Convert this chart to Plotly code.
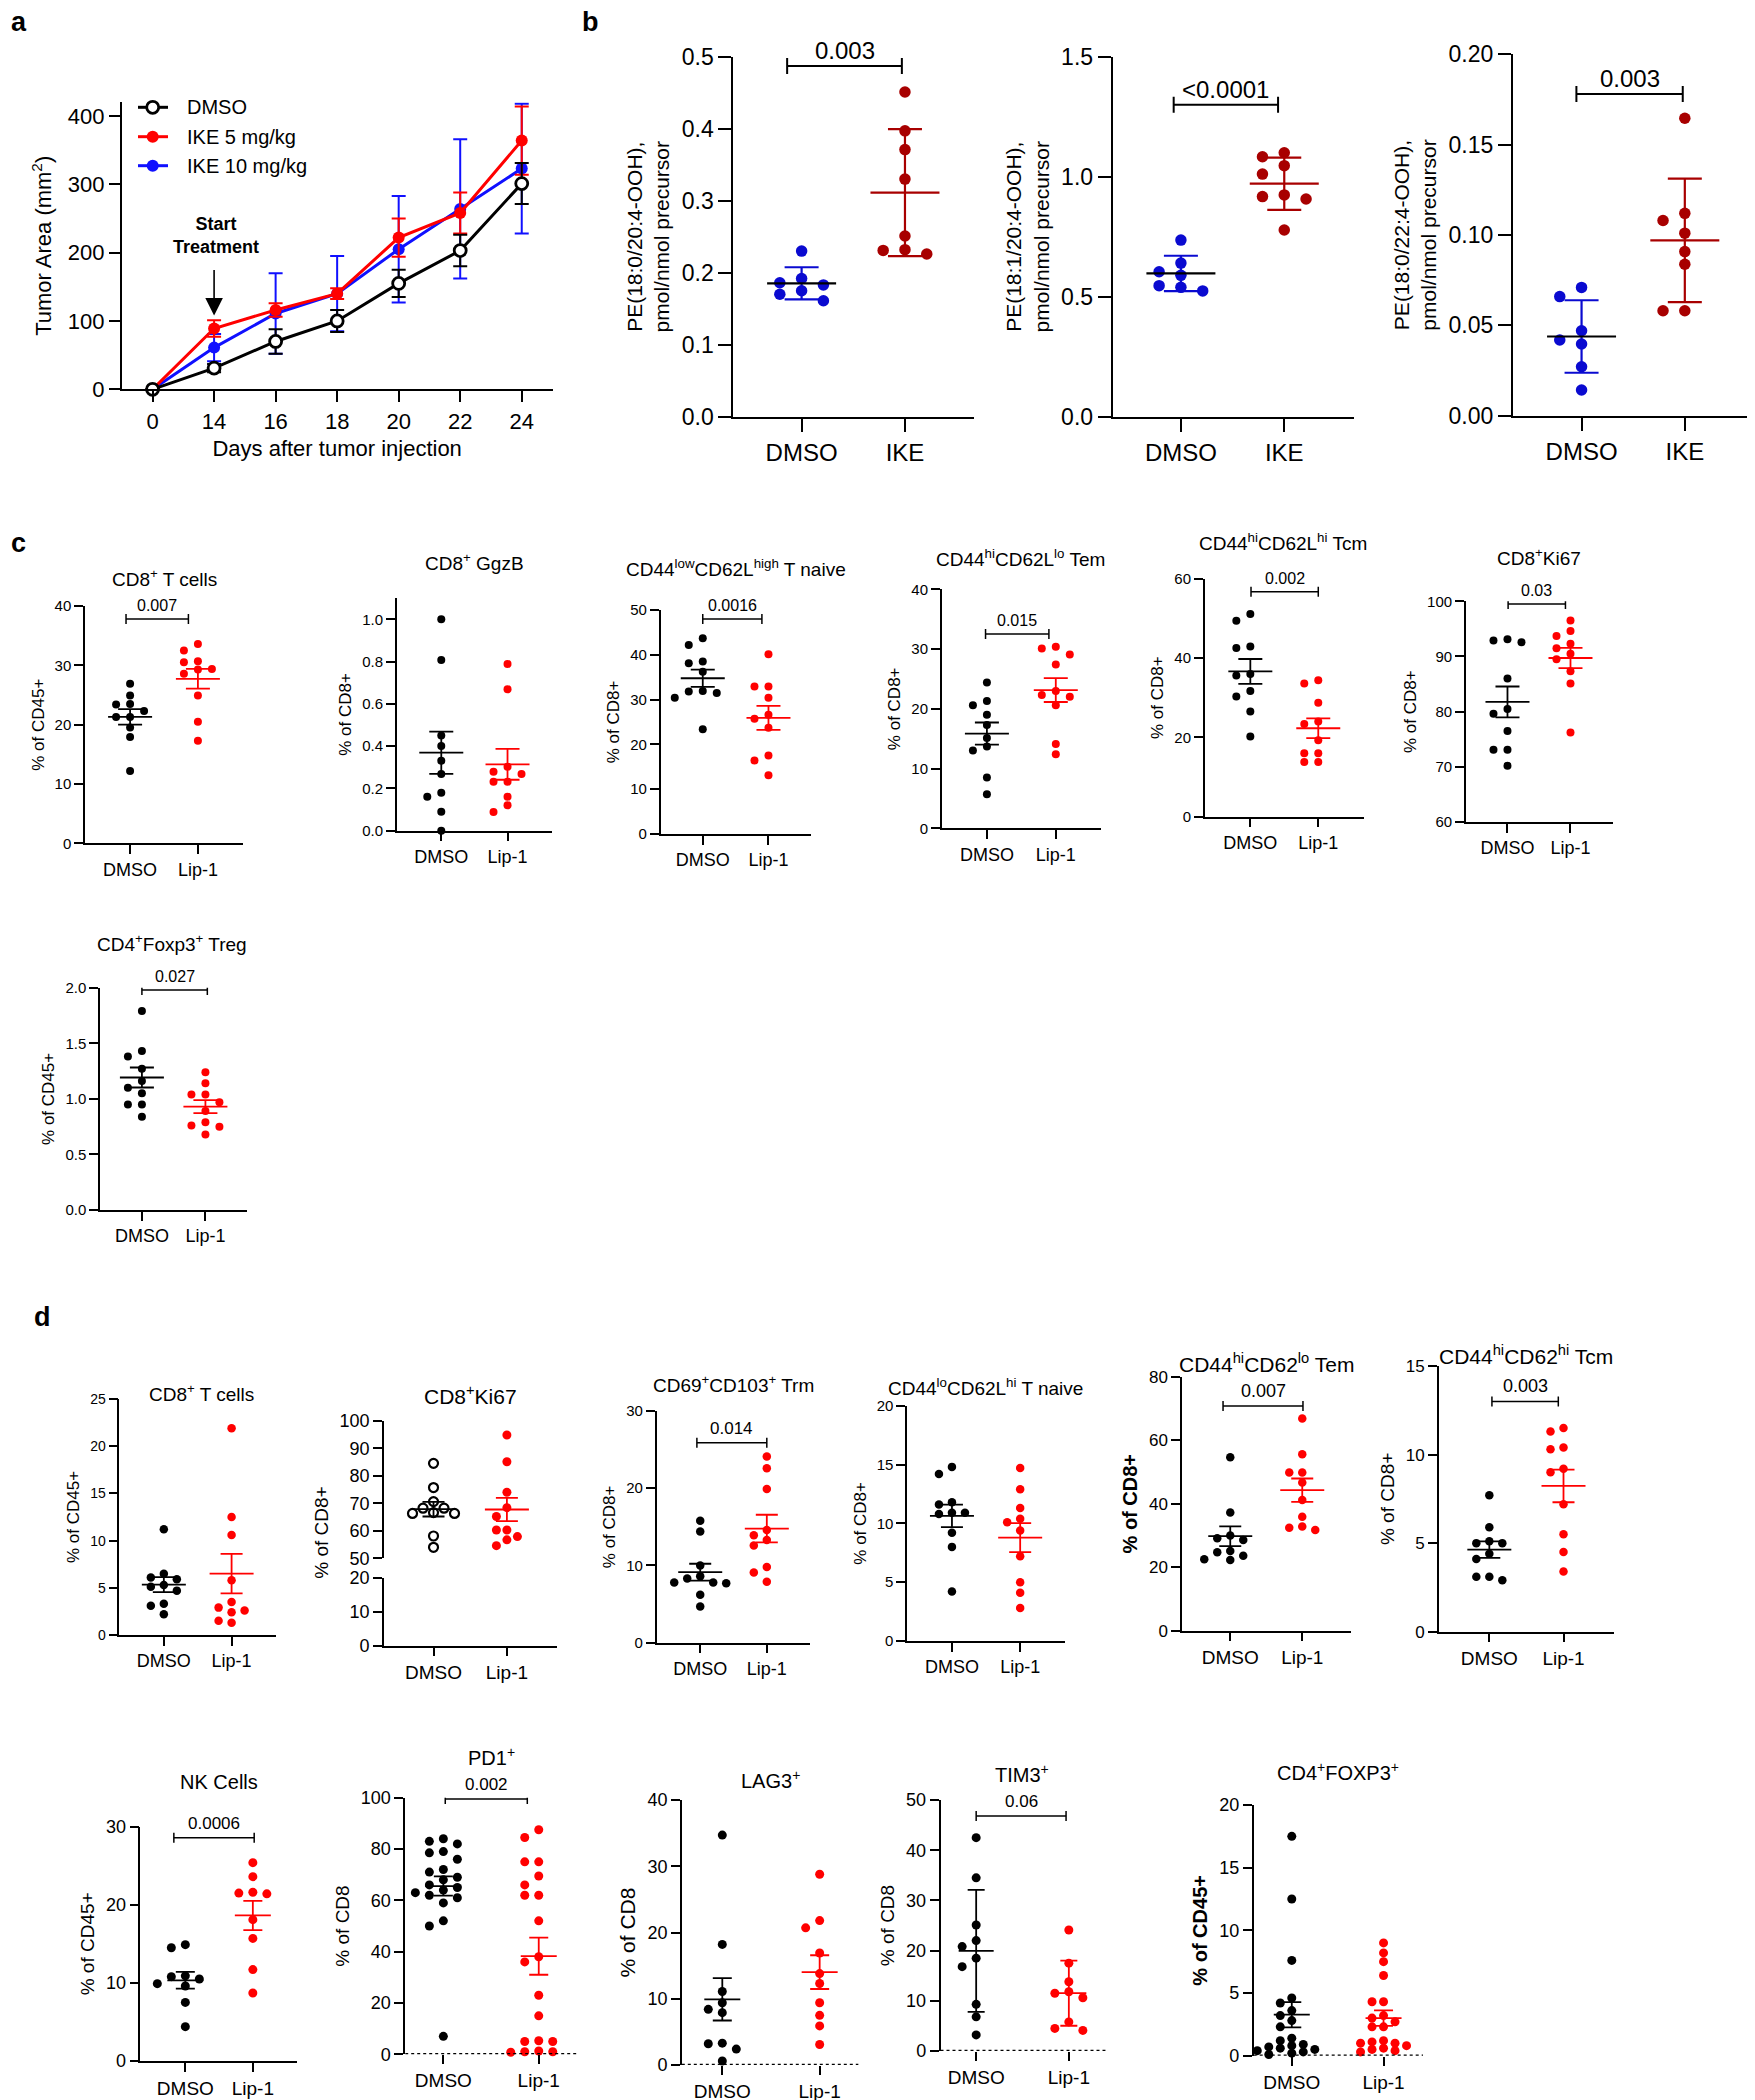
import numpy as np
import plotly.graph_objects as go

W, H = 1755, 2100
OFF = 8  # page offset of the plot inside the browser (body margin)
FONT = "Liberation Sans"
BLACK = "#000000"
RED = "#FF0000"
DARKRED = "#A80000"
BLUE_B = "#0A0AD0"
BLUE_A = "#1010FF"

# ---------------- data ----------------
# panel a : tumor growth
a_days = ["0", "14", "16", "18", "20", "22", "24"]
a_dmso = [0, 31, 70, 100, 155, 203, 301]
a_dmso_err = [0, 6, 18, 16, 20, 23, 30]
a_ike5 = [0, 89, 116, 140, 222, 258, 364]
a_ike5_err = [0, 12, 10, 8, 28, 30, 50]
a_ike10 = [0, 61, 111, 140, 205, 264, 323]
a_ike10_err = [0, 20, 59, 55, 78, 102, 95]

# panel b : oxidized PE
b_cats = ["DMSO", "IKE"]
b1_dmso = [0.230, 0.192, 0.186, 0.183, 0.175, 0.170, 0.161]
b1_ike = [0.451, 0.397, 0.371, 0.330, 0.251, 0.232, 0.231, 0.226]
b2_dmso = [0.736, 0.640, 0.604, 0.589, 0.546, 0.539, 0.524]
b2_ike = [1.100, 1.083, 1.046, 1.011, 0.924, 0.917, 0.907, 0.778]
b3_dmso = [0.0710, 0.0659, 0.0470, 0.0419, 0.0397, 0.0271, 0.0142]
b3_ike = [0.1646, 0.112, 0.108, 0.101, 0.0908, 0.0838, 0.0581, 0.0581]

# panel c
cd_cats = ["DMSO", "Lip-1"]
c1_dmso = [26.9, 24.9, 23.5, 23.4, 22.3, 21.3, 21.3, 19.5, 17.9, 12.2]
c1_lip = [33.6, 32.5, 30.7, 30.5, 29.4, 29.3, 28.6, 24.9, 20.5, 17.3]
c2_dmso = [1.0, 0.808, 0.451, 0.401, 0.331, 0.268, 0.18, 0.161, 0.09, 0.0]
c2_lip = [0.789, 0.669, 0.303, 0.279, 0.268, 0.232, 0.232, 0.161, 0.12, 0.088]
c3_dmso = [43.7, 42.2, 38.5, 38.1, 36.2, 31.9, 31.8, 31.5, 30.4, 23.4]
c3_lip = [40.1, 32.9, 32.9, 30.4, 26.6, 25.7, 23.7, 17.5, 16.4, 13.1]
c4_dmso = [24.4, 21.3, 20.6, 19.0, 17.3, 15.1, 13.7, 13.0, 8.5, 5.7]
c4_lip = [30.4, 30.1, 29.1, 27.4, 23.0, 22.3, 22.0, 20.6, 14.1, 12.4]
c5_dmso = [51.1, 49.4, 42.9, 42.5, 36.0, 35.6, 31.7, 30.3, 26.5, 20.2]
c5_lip = [34.4, 33.6, 28.7, 24.0, 23.4, 19.3, 16.0, 16.0, 13.8, 13.8]
c6_dmso = [93.1, 92.9, 92.6, 86.0, 80.5, 79.6, 76.5, 73.1, 73.1, 70.2]
c6_lip = [96.5, 94.6, 93.7, 92.3, 91.5, 90.5, 89.5, 87.3, 85.1, 76.2]
c7_dmso = [1.79, 1.43, 1.38, 1.27, 1.16, 1.10, 1.05, 0.95, 0.95, 0.84]
c7_lip = [1.24, 1.14, 1.04, 1.04, 0.97, 0.89, 0.79, 0.76, 0.75, 0.68]

# panel d
d1_dmso = [11.2, 6.5, 6.1, 5.9, 5.3, 5.1, 4.7, 3.3, 3.1, 2.2]
d1_lip = [21.9, 12.5, 10.6, 5.8, 3.5, 2.9, 2.6, 2.4, 1.5, 1.3]
d2_dmso = [84.5, 75.7, 70.6, 68.2, 68.2, 66.6, 66.3, 66.3, 58.1, 54.0]
d2_lip = [94.8, 85.1, 74.0, 68.4, 65.2, 60.3, 60.3, 57.9, 56.7, 54.6]
d3_dmso = [15.8, 14.4, 10.0, 8.6, 8.3, 7.8, 7.8, 7.7, 6.2, 4.7]
d3_lip = [24.1, 22.6, 19.9, 14.6, 13.9, 13.3, 12.6, 9.8, 9.1, 7.9]
d4_dmso = [14.8, 14.2, 11.8, 11.6, 10.9, 10.9, 10.8, 9.2, 8.0, 4.2]
d4_lip = [14.7, 12.9, 11.3, 10.4, 10.1, 9.4, 7.2, 5.0, 4.1, 2.8]
d5_dmso = [54.6, 37.2, 30.0, 29.1, 28.6, 25.1, 24.7, 23.6, 22.5, 22.3]
d5_lip = [66.8, 55.6, 49.8, 49.8, 46.7, 41.2, 35.9, 32.8, 32.4, 31.7]
d6_dmso = [7.7, 5.9, 5.1, 5.0, 5.0, 4.4, 4.1, 3.1, 3.1, 2.9]
d6_lip = [11.5, 11.3, 10.4, 10.3, 9.2, 9.0, 7.2, 5.5, 4.5, 3.4]
d7_dmso = [14.9, 14.5, 10.9, 10.8, 10.5, 9.9, 9.6, 7.5, 4.4]
d7_lip = [25.4, 23.6, 21.6, 21.5, 21.4, 18.1, 15.7, 11.7, 8.7]
d8_dmso = [84, 83, 82, 79, 78.5, 76, 72, 71, 69, 68, 66, 65, 64, 63, 62, 61, 59, 52, 50, 7]
d8_lip = [87.5, 84.5, 75, 75, 69.5, 66, 62, 62, 52, 38, 36, 23, 15, 5.3, 5.0, 5.0, 1.3, 1.0, 1.0, 0.8]
d9_dmso = [34.7, 18.2, 11.1, 9.4, 8.4, 7.9, 3.3, 3.2, 2.4, 0.6]
d9_lip = [28.8, 21.8, 20.7, 16.9, 13.8, 12.3, 9.4, 7.5, 5.9, 3.1]
d10_dmso = [42.5, 34.5, 25.1, 22.0, 20.8, 18.5, 16.8, 9.3, 6.8, 3.2]
d10_lip = [24.1, 17.5, 13.8, 11.8, 11.5, 10.6, 5.8, 4.5, 4.1]
d11_dmso = [17.5, 12.5, 7.6, 4.6, 4.2, 3.6, 3.2, 2.8, 2.3, 1.4, 1.2, 0.9, 0.8, 0.7, 0.6, 0.5, 0.4, 0.3, 0.2, 0.1]
d11_lip = [9.0, 8.2, 7.5, 6.4, 4.3, 4.3, 3.2, 3.0, 2.7, 2.3, 2.3, 1.2, 1.1, 1.0, 1.0, 0.8, 0.6, 0.5, 0.4, 0.3]

# ---------------- helpers ----------------
traces, shapes, annos = [], [], []
layout = {}
counter = [0]


def PX(x):
    return (x - OFF) / W


def PY(y):
    return 1 - (y - OFF) / H


def new_ax():
    counter[0] += 1
    return "" if counter[0] == 1 else str(counter[0])


def fnt(size):
    return dict(family=FONT, size=int(round(size)), color=BLACK)


def axes(geom, xr, yr, yticks, yfmt, st, xtickvals, xticktext, ytitle=None,
         ybold=False, ytsize=None, xline=True, xvisible=True, standoff=6):
    s = new_ax()
    x0, x1, yb, yt = geom
    lw = st["lw"]
    common = dict(showline=True, linecolor=BLACK, linewidth=lw, ticks="outside",
                  ticklen=st["ticklen"], tickwidth=lw, tickcolor=BLACK,
                  showgrid=False, zeroline=False, fixedrange=True, automargin=False)
    xa = dict(common, domain=[PX(x0), PX(x1)], range=xr, anchor="y" + s,
              tickmode="array", tickvals=xtickvals, ticktext=xticktext,
              tickfont=fnt(st["cat"]), showline=xline, visible=xvisible)
    ya = dict(common, domain=[PY(yb), PY(yt)], range=yr, anchor="x" + s,
              tickmode="array", tickvals=yticks, ticktext=[yfmt(v) for v in yticks],
              tickfont=fnt(st["tick"]))
    if ytitle:
        txt = "<b>%s</b>" % ytitle if ybold else ytitle
        ya["title"] = dict(text=txt, font=fnt(ytsize or st["yt"]), standoff=standoff)
    layout["xaxis" + s] = xa
    layout["yaxis" + s] = ya
    # empty trace so that the subplot is always drawn
    traces.append(go.Scatter(x=[], y=[], xaxis="x" + s, yaxis="y" + s,
                             showlegend=False, hoverinfo="skip"))
    return s


def swarm(vals, center, pxx, pxy, diam, step):
    order = sorted(range(len(vals)), key=lambda i: -vals[i])
    placed = []
    xs = [0.0] * len(vals)
    for i in order:
        py = vals[i] * pxy
        ox = 0
        for cand in [0, -1, 1, -2, 2, -3, 3, -4, 4]:
            ox = cand * step
            ok = all(not (abs(px - ox) < step * 0.5 and abs(qy - py) < diam)
                     for px, qy in placed)
            if ok:
                break
        placed.append((ox, py))
        xs[i] = center + ox / pxx
    return xs


def draw_groups(s, geom, xr, yr, groups, st, err):
    x0, x1, yb, yt = geom
    pxx = (x1 - x0) / (xr[1] - xr[0])
    pxy = (yb - yt) / (yr[1] - yr[0])
    hw = st["hw"] / pxx
    cw = st["cw"] / pxx
    for gi, g in enumerate(groups):
        vals = g["vals"]
        xs = swarm(vals, gi, pxx, pxy, st["size"] * st.get("coll", 1.0), st["step"])
        if g.get("open"):
            mk = dict(size=st["size"], color=g["color"], symbol="circle-open",
                      line=dict(width=2.2, color=g["color"]))
        else:
            mk = dict(size=st["size"], color=g["color"], line=dict(width=0))
        traces.append(go.Scatter(x=xs, y=vals, mode="markers", marker=mk,
                                 xaxis="x" + s, yaxis="y" + s, cliponaxis=False,
                                 showlegend=False, hoverinfo="skip"))
        v = np.array(vals, float)
        m = v.mean()
        sd = v.std(ddof=1)
        e = sd if err == "sd" else sd / np.sqrt(len(v))
        traces.append(go.Scatter(
            x=[gi, gi, None, gi - cw, gi + cw, None, gi - cw, gi + cw],
            y=[m - e, m + e, None, m + e, m + e, None, m - e, m - e],
            mode="lines", line=dict(color=g.get("ecolor", g["color"]), width=st["lwm"]),
            xaxis="x" + s, yaxis="y" + s, cliponaxis=False, showlegend=False,
            hoverinfo="skip"))
        traces.append(go.Scatter(
            x=[gi - hw, gi + hw], y=[m, m], mode="lines",
            line=dict(color=g.get("mcolor", g["color"]), width=st["lwm"]),
            xaxis="x" + s, yaxis="y" + s, cliponaxis=False, showlegend=False,
            hoverinfo="skip"))


def bracket(s, geom, yr, br, st):
    x0, x1, yb, yt = geom
    pxy = (yb - yt) / (yr[1] - yr[0])
    xa_, xb_, yv, label = br
    th = st["bt"] / pxy
    for (X0, Y0, X1, Y1) in [(xa_, yv, xb_, yv), (xa_, yv - th, xa_, yv + th),
                             (xb_, yv - th, xb_, yv + th)]:
        shapes.append(dict(type="line", xref="x" + s, yref="y" + s, x0=X0, y0=Y0,
                           x1=X1, y1=Y1, line=dict(color=BLACK, width=st["lw"])))
    annos.append(dict(text=label, x=(xa_ + xb_) / 2, y=yv, xref="x" + s, yref="y" + s,
                      yanchor="bottom", yshift=st["pvshift"], showarrow=False,
                      font=fnt(st["pv"])))


def title(text, pos, size):
    annos.append(dict(text=text, x=PX(pos[0]), y=PY(pos[1]), xref="paper",
                      yref="paper", xanchor="center", yanchor="middle",
                      showarrow=False, font=fnt(size)))


def dotplot(geom, xr, yr, yticks, yfmt, ytitle, ttl, tpos, groups, st, err="sem",
            br=None, dotted=False, ybold=False, ytsize=None, tsize=None, cats=None):
    cats = cats or cd_cats
    s = axes(geom, xr, yr, yticks, yfmt, st, list(range(len(cats))), list(cats),
             ytitle, ybold, ytsize, xline=not dotted)
    if dotted:
        shapes.append(dict(type="line", xref="x" + s, yref="y" + s, x0=xr[0], x1=xr[1],
                           y0=0, y1=0, line=dict(color=BLACK, width=2.5, dash="dot")))
    draw_groups(s, geom, xr, yr, groups, st, err)
    if br:
        bracket(s, geom, yr, br, st)
    if ttl:
        title(ttl, tpos, tsize or st["title"])
    return s


def blk(v):
    return dict(vals=v, color=BLACK)


def red(v):
    return dict(vals=v, color=RED)


fmt_g = lambda v: "%g" % v
fmt1 = lambda v: "%.1f" % v
fmt2 = lambda v: "%.2f" % v

# ---------------- panel a ----------------
ST_A = dict(lw=2, ticklen=11, tick=22, cat=22, yt=22)
ga = (121.8, 552.5, 389.3, 102.3)
sa = axes(ga, [-0.5, 6.5], [0, 420], [0, 100, 200, 300, 400], fmt_g, ST_A,
          list(range(len(a_days))), a_days, ytitle="Tumor Area (mm<sup>2</sup>)",
          standoff=10)
layout["xaxis" + sa]["title"] = dict(text="Days after tumor injection", font=fnt(22),
                                     standoff=8)
xi = list(range(len(a_days)))
for yv, ev, col, opn in [(a_ike10, a_ike10_err, BLUE_A, False),
                         (a_ike5, a_ike5_err, RED, False),
                         (a_dmso, a_dmso_err, BLACK, True)]:
    mk = dict(size=12, color=col) if not opn else dict(
        size=12, color="white", line=dict(color=BLACK, width=2.8))
    traces.append(go.Scatter(
        x=xi, y=yv, mode="lines+markers", line=dict(color=col, width=3), marker=mk,
        error_y=dict(type="data", array=ev, color=col, thickness=2, width=7),
        xaxis="x" + sa, yaxis="y" + sa, cliponaxis=False, showlegend=False,
        hoverinfo="skip"))
# legend (drawn)
for ypx, lab, col, opn in [(107.3, "DMSO", BLACK, True), (136.7, "IKE 5 mg/kg", RED, False),
                           (165.7, "IKE 10 mg/kg", BLUE_A, False)]:
    yy = PY(ypx)
    shapes.append(dict(type="line", xref="paper", yref="paper", x0=PX(138), x1=PX(168),
                       y0=yy, y1=yy, line=dict(color=col, width=3)))
    shapes.append(dict(type="circle", xref="paper", yref="paper",
                       x0=PX(152.7 - 6), x1=PX(152.7 + 6),
                       y0=PY(ypx + 6), y1=PY(ypx - 6),
                       fillcolor="white" if opn else col,
                       line=dict(color=col, width=2.8 if opn else 0)))
    annos.append(dict(text=lab, x=PX(185), y=yy, xref="paper", yref="paper",
                      xanchor="left", yanchor="middle", showarrow=False, font=fnt(20)))
annos.append(dict(text="<b>Start<br>Treatment</b>", x=PX(216), y=PY(235.5),
                  xref="paper", yref="paper", xanchor="center", yanchor="middle",
                  showarrow=False, font=fnt(18)))
annos.append(dict(text="", x=a_days.index("14"), y=108, xref="x" + sa, yref="y" + sa,
                  showarrow=True, ax=0, ay=-47, arrowhead=2, arrowsize=2.2,
                  arrowwidth=1.6, arrowcolor=BLACK, standoff=0))

# ---------------- panel b ----------------
ST_B = dict(lw=2, ticklen=13, tick=23, cat=24, yt=21, hw=34.5, cw=17, lwm=2.2,
            size=11.5, step=21.8, pv=24, bt=8, pvshift=0, title=20)


def bgroups(d, i):
    return [dict(vals=d, color=BLUE_B, mcolor=BLACK, ecolor=BLUE_B),
            dict(vals=i, color=DARKRED, mcolor=DARKRED, ecolor=DARKRED)]


dotplot((733.4, 973.7, 416.7, 56.7), [-0.66, 1.665], [0, 0.5],
        [0, 0.1, 0.2, 0.3, 0.4, 0.5], fmt1,
        "PE(18:0/20:4-OOH),<br>pmol/nmol precursor", None, None,
        bgroups(b1_dmso, b1_ike), ST_B, err="sd", br=(-0.14, 0.97, 0.487, "0.003"),
        cats=b_cats)
dotplot((1112.7, 1353.5, 416.7, 56.7), [-0.66, 1.67], [0, 1.5],
        [0, 0.5, 1.0, 1.5], fmt1,
        "PE(18:1/20:4-OOH),<br>pmol/nmol precursor", None, None,
        bgroups(b2_dmso, b2_ike), ST_B, err="sd", br=(-0.07, 0.94, 1.30, "&lt;0.0001"),
        cats=b_cats)
dotplot((1512.9, 1754, 415.7, 54.3), [-0.665, 1.67], [0, 0.2],
        [0, 0.05, 0.1, 0.15, 0.2], fmt2,
        "PE(18:0/22:4-OOH),<br>pmol/nmol precursor", None, None,
        bgroups(b3_dmso, b3_ike), ST_B, err="sd", br=(-0.05, 0.98, 0.178, "0.003"),
        cats=b_cats)

# ---------------- panel c ----------------
ST_C = dict(lw=1.5, ticklen=9, tick=15, cat=18, yt=17, hw=22, cw=12, lwm=1.8,
            size=8, step=14, pv=16, bt=5, pvshift=3, title=19)
dotplot((85, 243, 843.3, 606), [-0.665, 1.665], [0, 40], [0, 10, 20, 30, 40], fmt_g,
        "% of CD45+", "CD8<sup>+</sup> T cells", (164, 578),
        [blk(c1_dmso), red(c1_lip)], ST_C, br=(-0.06, 0.86, 37.8, "0.007"))
dotplot((396.9, 551.9, 830.7, 598.2), [-0.67, 1.67], [0, 1.1],
        [0, 0.2, 0.4, 0.6, 0.8, 1.0], fmt1,
        "% of CD8+", "CD8<sup>+</sup> GgzB", (474.6, 561.7),
        [blk(c2_dmso), red(c2_lip)], ST_C)
dotplot((660.7, 811.2, 834, 610), [-0.64, 1.65], [0, 50], [0, 10, 20, 30, 40, 50], fmt_g,
        "% of CD8+", "CD44<sup>low</sup>CD62L<sup>high</sup> T naive", (736, 568),
        [blk(c3_dmso), red(c3_lip)], ST_C, br=(0, 0.9, 48, "0.0016"))
dotplot((941.8, 1100.9, 828.3, 589.3), [-0.655, 1.655], [0, 40], [0, 10, 20, 30, 40],
        fmt_g, "% of CD8+", "CD44<sup>hi</sup>CD62L<sup>lo</sup> Tem", (1020.8, 558),
        [blk(c4_dmso), red(c4_lip)], ST_C, br=(-0.02, 0.9, 32.5, "0.015"))
dotplot((1204.8, 1363.8, 816.7, 578.7), [-0.67, 1.67], [0, 60], [0, 20, 40, 60],
        fmt_g, "% of CD8+", "CD44<sup>hi</sup>CD62L<sup>hi</sup> Tcm", (1283.3, 541.7),
        [blk(c5_dmso), red(c5_lip)], ST_C, br=(0.01, 1.0, 56.7, "0.002"))
dotplot((1465.9, 1612.7, 822, 601.3), [-0.66, 1.67], [60, 100],
        [60, 70, 80, 90, 100], fmt_g, "% of CD8+", "CD8<sup>+</sup>Ki67",
        (1538.7, 556.7), [blk(c6_dmso), red(c6_lip)], ST_C,
        br=(0.01, 0.92, 99.5, "0.03"))
dotplot((100, 246.7, 1210, 987.7), [-0.66, 1.65], [0, 2], [0, 0.5, 1.0, 1.5, 2.0], fmt1,
        "% of CD45+", "CD4<sup>+</sup>Foxp3<sup>+</sup> Treg", (171.7, 942.7),
        [blk(c7_dmso), red(c7_lip)], ST_C, br=(0, 1.03, 1.98, "0.027"))

# ---------------- panel d, row 1 ----------------
ST_D = dict(lw=1.5, ticklen=9, tick=15, cat=18, yt=17, hw=22, cw=11, lwm=1.8,
            size=8.5, step=13, pv=17, bt=5, pvshift=3, title=19)
ST_D1 = dict(ST_D, tick=14)
dotplot((119.4, 276.3, 1635, 1399), [-0.656, 1.66], [0, 25], [0, 5, 10, 15, 20, 25],
        fmt_g, "% of CD45+", "CD8<sup>+</sup> T cells", (201, 1393),
        [blk(d1_dmso), red(d1_lip)], ST_D1)

# broken axis Ki67
ST_D2 = dict(ST_D, tick=18, cat=19, step=10.5, size=9)
g_lo = (383.9, 556.8, 1645.7, 1577.7)
g_hi = (383.9, 556.8, 1558.3, 1420.7)
xr2 = [-0.676, 1.68]
axes(g_lo, xr2, [0, 20], [0, 10, 20], fmt_g, ST_D2, [0, 1], cd_cats)
s_hi = axes(g_hi, xr2, [50, 100], [50, 60, 70, 80, 90, 100], fmt_g, ST_D2, [0, 1],
            cd_cats, xvisible=False)
draw_groups(s_hi, g_hi, xr2, [50, 100],
            [dict(vals=d2_dmso, color=BLACK, open=True), red(d2_lip)], ST_D2, "sem")
annos.append(dict(text="% of CD8+", x=PX(320.7), y=PY(1533), xref="paper",
                  yref="paper", textangle=-90, showarrow=False, font=fnt(19),
                  xanchor="center", yanchor="middle"))
title("CD8<sup>+</sup>Ki67", (470.7, 1395), 21)

dotplot((656.6, 810.1, 1642.7, 1411), [-0.655, 1.65], [0, 30], [0, 10, 20, 30], fmt_g,
        "% of CD8+", "CD69<sup>+</sup>CD103<sup>+</sup> Trm", (733, 1384),
        [blk(d3_dmso), red(d3_lip)], ST_D, br=(-0.05, 1.0, 25.9, "0.014"))
dotplot((907.2, 1065.2, 1641, 1405.7), [-0.656, 1.66], [0, 20], [0, 5, 10, 15, 20],
        fmt_g, "% of CD8+", "CD44<sup>lo</sup>CD62L<sup>hi</sup> T naive", (985, 1387),
        [blk(d4_dmso), red(d4_lip)], ST_D)
ST_D5 = dict(ST_D, tick=17, cat=19, pv=18)
dotplot((1182, 1350.5, 1630.7, 1376.7), [-0.67, 1.67], [0, 80], [0, 20, 40, 60, 80],
        fmt_g, "% of CD8+", "CD44<sup>hi</sup>CD62<sup>lo</sup> Tem", (1266.3, 1362.7),
        [blk(d5_dmso), red(d5_lip)], ST_D5, br=(-0.1, 1.01, 70.8, "0.007"),
        ybold=True, ytsize=20, tsize=21)
dotplot((1438.9, 1614.3, 1631.7, 1366), [-0.68, 1.685], [0, 15], [0, 5, 10, 15],
        fmt_g, "% of CD8+", "CD44<sup>hi</sup>CD62<sup>hi</sup> Tcm", (1526.2, 1355),
        [blk(d6_dmso), red(d6_lip)], ST_D5, br=(0.035, 0.93, 13.0, "0.003"),
        ytsize=19, tsize=21)

# ---------------- panel d, row 2 ----------------
ST_E = dict(lw=1.5, ticklen=9, tick=18, cat=19, yt=19, hw=18, cw=9.5, lwm=1.8,
            size=9, step=14, pv=17, bt=5, pvshift=3, title=20)
dotplot((140.3, 297.4, 2061, 1826.7), [-0.667, 1.66], [0, 30], [0, 10, 20, 30], fmt_g,
        "% of CD45+", "NK Cells", (218.9, 1781.7),
        [blk(d7_dmso), red(d7_lip)], ST_E, br=(-0.17, 1.02, 28.6, "0.0006"))
dotplot((405.2, 576.9, 2054.3, 1797.7), [-0.40, 1.40], [0, 100],
        [0, 20, 40, 60, 80, 100], fmt_g, "% of CD8", "PD1<sup>+</sup>", (491, 1756),
        [blk(d8_dmso), red(d8_lip)], ST_E, br=(0.02, 0.88, 99.5, "0.002"), dotted=True)
dotplot((681.8, 858.6, 2065, 1800), [-0.416, 1.40], [0, 40], [0, 10, 20, 30, 40], fmt_g,
        "% of CD8", "LAG3<sup>+</sup>", (770, 1779.3),
        [blk(d9_dmso), red(d9_lip)], ST_E, dotted=True, ytsize=21)
ST_E10 = dict(ST_E, hw=17.5, cw=8.5)
dotplot((940.5, 1105.9, 2051, 1800), [-0.385, 1.40], [0, 50], [0, 10, 20, 30, 40, 50],
        fmt_g, "% of CD8", "TIM3<sup>+</sup>", (1022.4, 1773.3),
        [blk(d10_dmso), red(d10_lip)], ST_E10, err="sd",
        br=(0, 0.97, 46.8, "0.06"), dotted=True)
ST_E11 = dict(ST_E, step=11.5, coll=0.8)
dotplot((1253.7, 1423, 2055.7, 1805), [-0.415, 1.43], [0, 20], [0, 5, 10, 15, 20],
        fmt_g, "% of CD45+", "CD4<sup>+</sup>FOXP3<sup>+</sup>", (1338.4, 1771.7),
        [blk(d11_dmso), red(d11_lip)], ST_E11, dotted=True, ybold=True, ytsize=20)

# ---------------- panel letters ----------------
for lab, (px, py) in [("a", (19, 22)), ("b", (590, 22)), ("c", (18, 543)), ("d", (42, 1317))]:
    annos.append(dict(text="<b>%s</b>" % lab, x=PX(px), y=PY(py), xref="paper",
                      yref="paper", xanchor="center", yanchor="middle",
                      showarrow=False, font=fnt(27)))

layout.update(dict(width=W, height=H, margin=dict(l=0, r=0, t=0, b=0, pad=0),
                   paper_bgcolor="white", plot_bgcolor="rgba(0,0,0,0)",
                   showlegend=False, shapes=shapes, annotations=annos,
                   font=dict(family=FONT, color=BLACK)))
fig = go.Figure(data=traces, layout=layout)
fig.write_html("out.html")
